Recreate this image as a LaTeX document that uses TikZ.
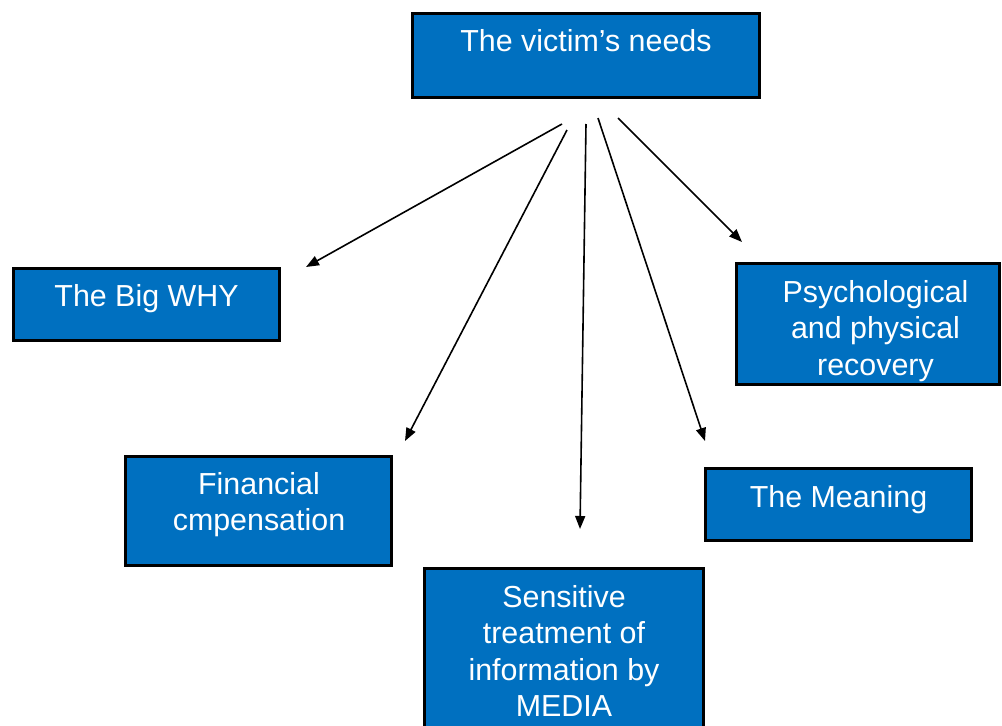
\documentclass[tikz,border=0pt]{standalone}
\usepackage{fontspec}
\setmainfont{Liberation Sans}
\usetikzlibrary{arrows.meta}
\definecolor{boxblue}{HTML}{0070C0}
\tikzset{
  bluebox/.style={draw=black, line width=3pt, fill=boxblue},
  boxtext/.style={text=white, font=\fontsize{30.4}{36.5}\selectfont, align=center, inner sep=0pt, anchor=base},
  needarrow/.style={line width=1.6pt, -{Triangle[length=13pt,width=10pt]}}
}
\begin{document}
\begin{tikzpicture}[x=1pt,y=-1pt]
\useasboundingbox (0,0) rectangle (1002,726);
% boxes
\path[bluebox] (412.5,13.5) rectangle (759.5,97.5);
\node[boxtext] (toptext) at (586,51.5) {The victim’s needs};

\path[bluebox] (13.5,268.5) rectangle (279.5,340.5);
\node[boxtext] (whytext) at (146.5,306) {The Big WHY};

\path[bluebox] (736.5,263.5) rectangle (999.5,384.5);
\node[boxtext] (psychtext) at (875.5,375) {Psychological\\and physical\\recovery};

\path[bluebox] (125.5,456.5) rectangle (391.5,565.5);
\node[boxtext] (fintext) at (259,530.5) {Financial\\cmpensation};

\path[bluebox] (705.5,468.5) rectangle (971.5,540.5);
\node[boxtext] (meantext) at (838.5,507) {The Meaning};

\path[bluebox] (424.5,568.5) rectangle (703.5,760);
\node[boxtext] (senstext) at (564,716.5) {Sensitive\\treatment of\\information by\\MEDIA};

% arrow ends
\coordinate (s1) at (562,124);
\coordinate (s2) at (567,130);
\coordinate (s3) at (586,124);
\coordinate (s4) at (598,118);
\coordinate (s5) at (618,118);
\coordinate (e1) at (306,267);
\coordinate (e2) at (405,441);
\coordinate (e3) at (580,529);
\coordinate (e4) at (705,441);
\coordinate (e5) at (742,242);
\draw[needarrow] (s1) -- (e1);
\draw[needarrow] (s2) -- (e2);
\draw[needarrow] (s3) -- (e3);
\draw[needarrow] (s4) -- (e4);
\draw[needarrow] (s5) -- (e5);
\end{tikzpicture}
\end{document}
